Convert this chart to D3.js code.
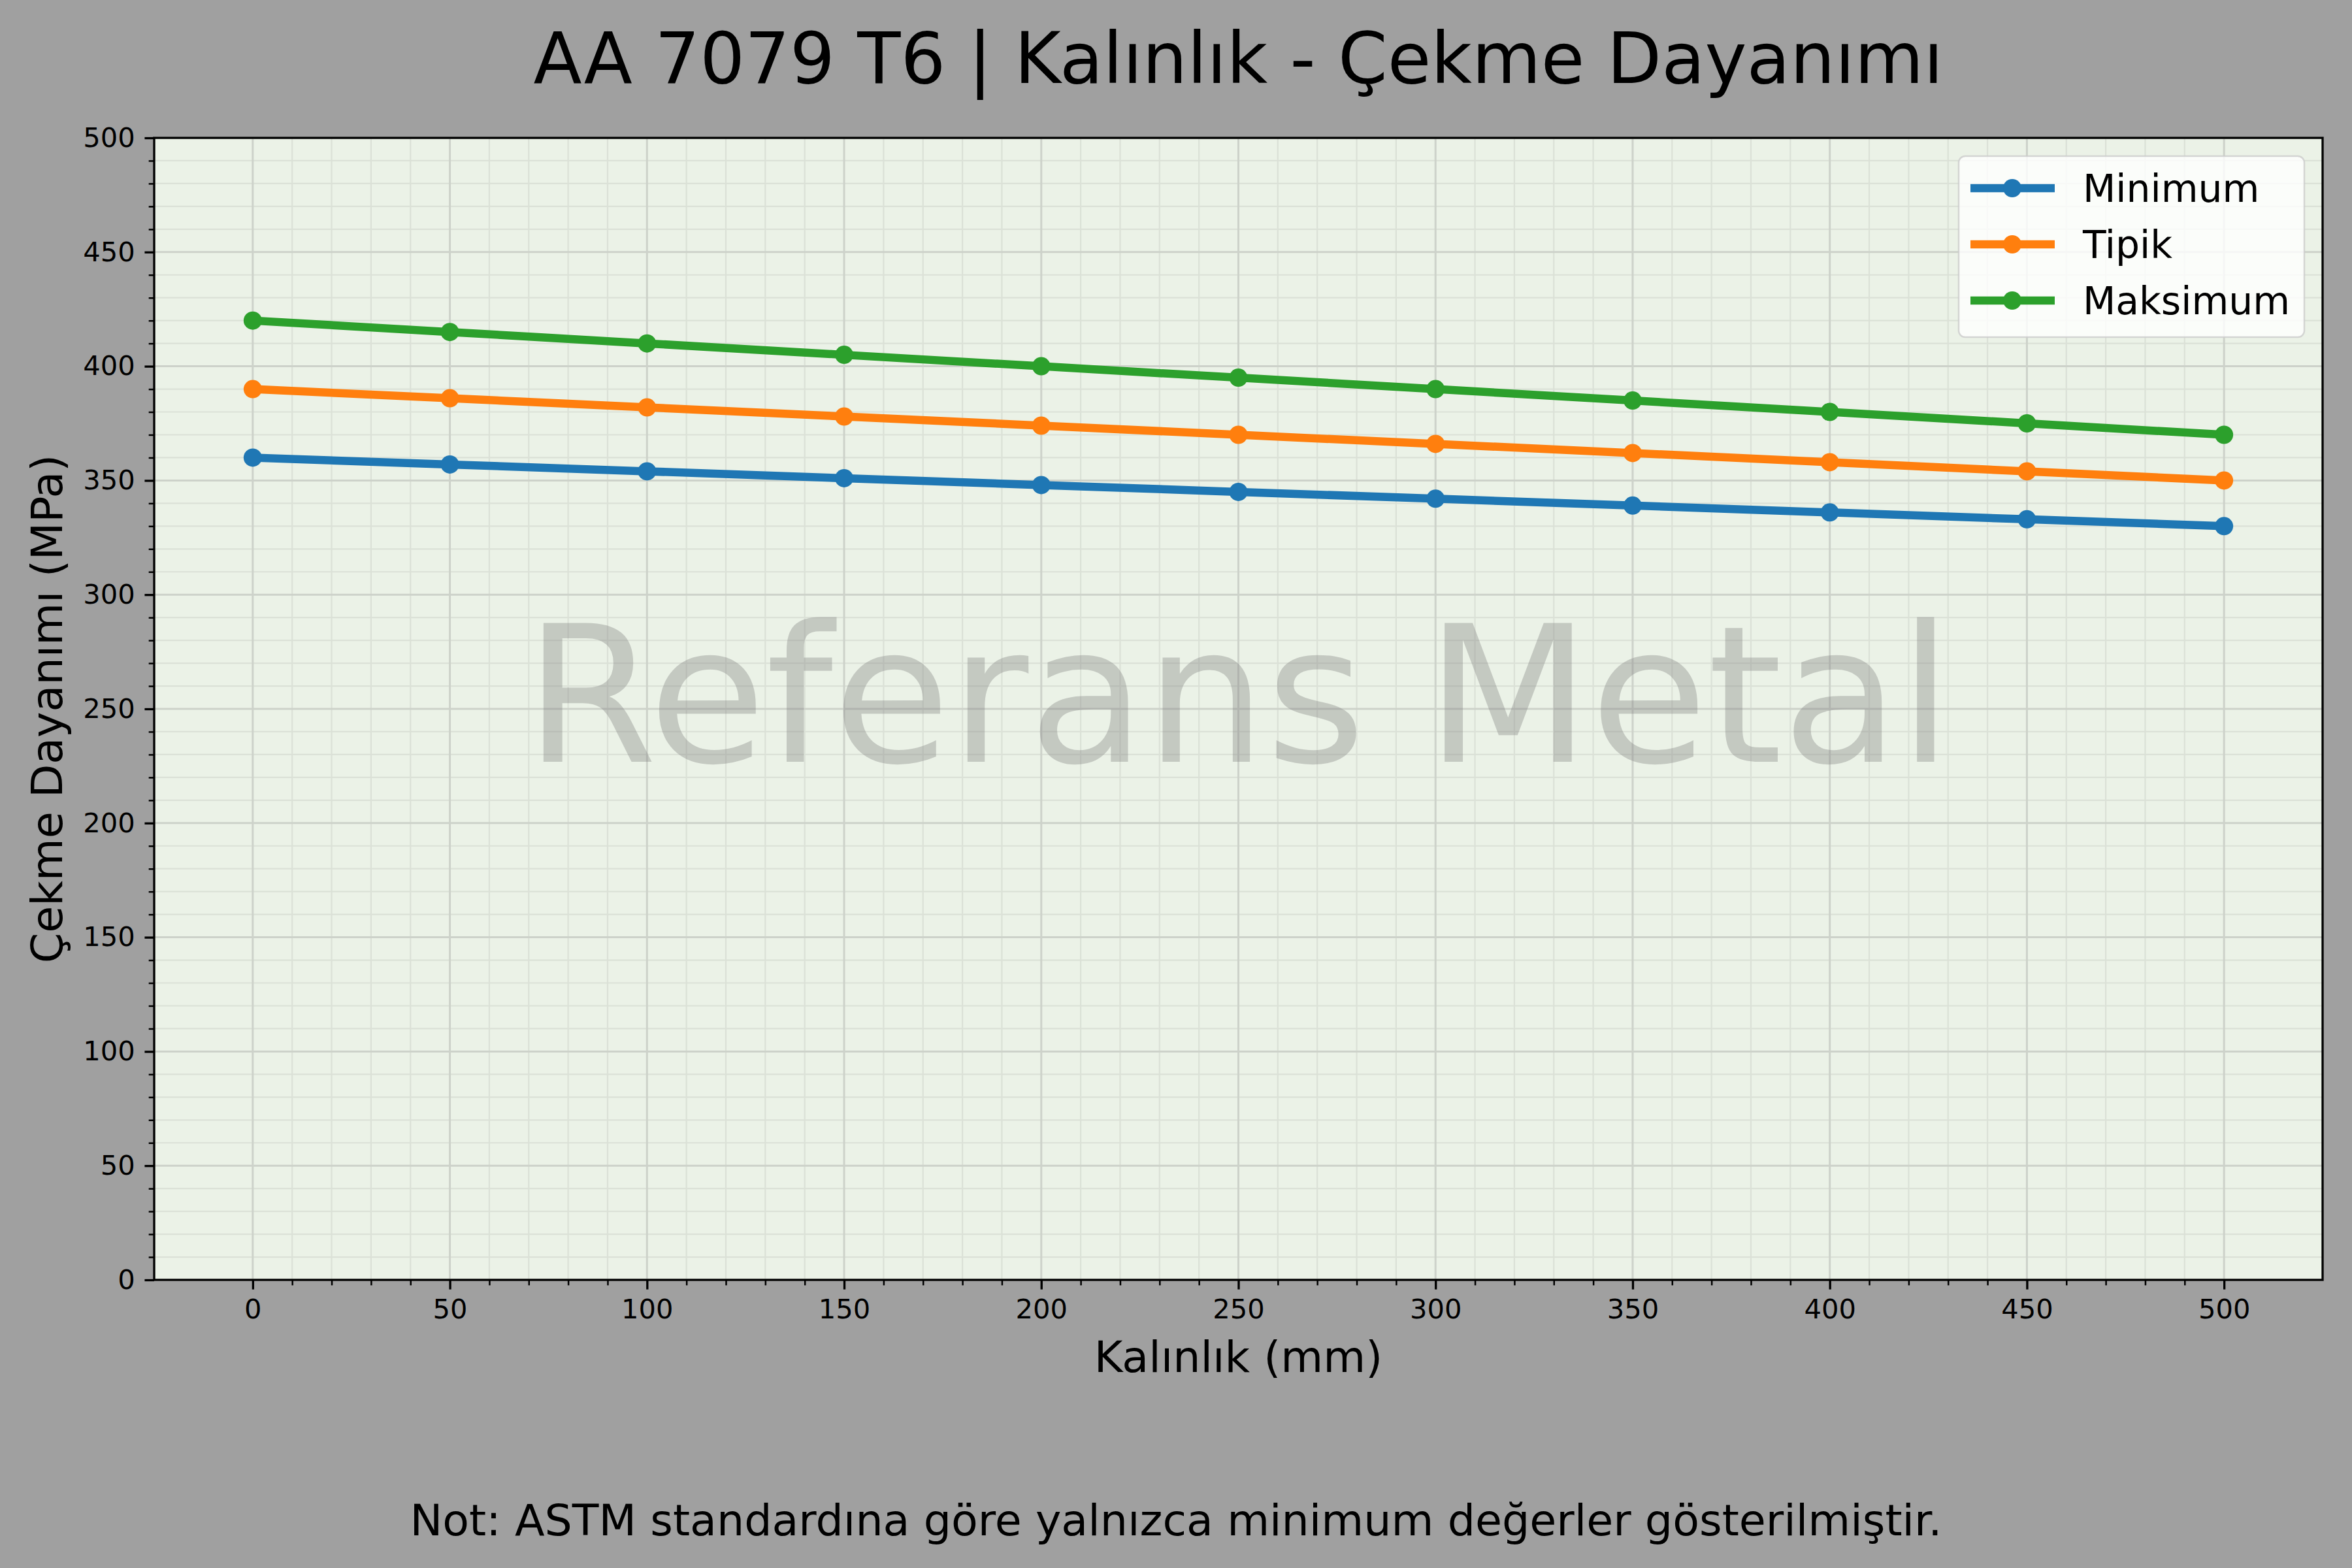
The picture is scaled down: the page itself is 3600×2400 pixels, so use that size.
<!DOCTYPE html>
<html>
<head>
<meta charset="utf-8">
<script src="https://cdn.jsdelivr.net/npm/d3@7"></script>
<style>
  html, body { margin: 0; padding: 0; background: #a0a0a0; }
  svg { display: block; font-family: "DejaVu Sans", sans-serif; }
</style>
</head>
<body>
<div id="chart"></div>
<script>
// values
const thickness = [0, 50, 100, 150, 200, 250, 300, 350, 400, 450, 500]
const minValues = [360, 357, 354, 351, 348, 345, 342, 339, 336, 333, 330]
const typValues = [390, 386, 382, 378, 374, 370, 366, 362, 358, 354, 350]
const maxValues = [420, 415, 410, 405, 400, 395, 390, 385, 380, 375, 370]
const seriesNames = ['Minimum', 'Tipik', 'Maksimum']
const seriesColors = ['#1f77b4', '#ff7f0e', '#2ca02c']
const xTicks = [0, 50, 100, 150, 200, 250, 300, 350, 400, 450, 500]
const yTicks = [0, 50, 100, 150, 200, 250, 300, 350, 400, 450, 500]

const titleText = 'AA 7079 T6 | Kalınlık - Çekme Dayanımı'
const xLabel = 'Kalınlık (mm)'
const yLabel = 'Çekme Dayanımı (MPa)'
const noteText = 'Not: ASTM standardına göre yalnızca minimum değerler gösterilmiştir.'
const watermark = 'Referans Metal'

const W = 3600, H = 2400
const plot = {left: 236, right: 3555, top: 211, bottom: 1959}
const pt = 300 / 72  // figure was made at 300 dpi

const svg = d3.select('#chart').append('svg')
  .attr('width', W).attr('height', H)
  .attr('viewBox', `0 0 ${W} ${H}`)

svg.append('rect').attr('width', W).attr('height', H).attr('fill', '#a0a0a0')

const x = d3.scaleLinear().domain([-25, 525]).range([plot.left, plot.right])
const y = d3.scaleLinear().domain([0, 500]).range([plot.bottom, plot.top])

const minorTicks = d3.range(0, 501, 10).filter(v => v % 50 !== 0)

// axes background
svg.append('rect')
  .attr('x', plot.left).attr('y', plot.top)
  .attr('width', plot.right - plot.left).attr('height', plot.bottom - plot.top)
  .attr('fill', '#ebf2e7')

// grid: minor first, then major
const grid = svg.append('g')
grid.selectAll('.gxm').data(minorTicks).enter().append('line')
  .attr('x1', d => x(d)).attr('x2', d => x(d))
  .attr('y1', plot.top).attr('y2', plot.bottom)
  .attr('stroke', '#dbe1d7').attr('stroke-width', 2.2)
grid.selectAll('.gym').data(minorTicks).enter().append('line')
  .attr('y1', d => y(d)).attr('y2', d => y(d))
  .attr('x1', plot.left).attr('x2', plot.right)
  .attr('stroke', '#dbe1d7').attr('stroke-width', 2.2)
grid.selectAll('.gx').data(xTicks).enter().append('line')
  .attr('x1', d => x(d)).attr('x2', d => x(d))
  .attr('y1', plot.top).attr('y2', plot.bottom)
  .attr('stroke', '#cdd2ca').attr('stroke-width', 3)
grid.selectAll('.gy').data(yTicks).enter().append('line')
  .attr('y1', d => y(d)).attr('y2', d => y(d))
  .attr('x1', plot.left).attr('x2', plot.right)
  .attr('stroke', '#cdd2ca').attr('stroke-width', 3)

// watermark
svg.append('text')
  .attr('x', (plot.left + plot.right) / 2)
  .attr('y', 1166)
  .attr('text-anchor', 'middle')
  .attr('font-size', 70 * pt)
  .attr('fill', '#808080').attr('fill-opacity', 0.36)
  .text(watermark)

// series
const series = [minValues, typValues, maxValues].map((vals, i) => ({
  name: seriesNames[i],
  color: seriesColors[i],
  points: thickness.map((t, j) => ({t: t, v: vals[j]}))
}))

const line = d3.line().x(d => x(d.t)).y(d => y(d.v))

const sg = svg.selectAll('.series').data(series).enter().append('g')
sg.append('path')
  .attr('d', d => line(d.points))
  .attr('fill', 'none')
  .attr('stroke', d => d.color)
  .attr('stroke-width', 3 * pt)
  .attr('stroke-linejoin', 'round')
  .attr('stroke-linecap', 'square')
sg.selectAll('circle').data(d => d.points.map(p => ({...p, color: d.color}))).enter()
  .append('circle')
  .attr('cx', d => x(d.t)).attr('cy', d => y(d.v))
  .attr('r', 14)
  .attr('fill', d => d.color)

// axes
const tickFont = 10 * pt
const xAxis = svg.append('g')
  .attr('transform', `translate(0,${plot.bottom})`)
  .call(d3.axisBottom(x).tickValues(xTicks).tickSize(3.5 * pt).tickPadding(3.5 * pt).tickSizeOuter(0))
const xMinor = svg.append('g')
  .attr('transform', `translate(0,${plot.bottom})`)
  .call(d3.axisBottom(x).tickValues(minorTicks).tickSize(2 * pt).tickFormat('').tickSizeOuter(0))
const yAxis = svg.append('g')
  .attr('transform', `translate(${plot.left},0)`)
  .call(d3.axisLeft(y).tickValues(yTicks).tickSize(3.5 * pt).tickPadding(3.5 * pt).tickSizeOuter(0))
const yMinor = svg.append('g')
  .attr('transform', `translate(${plot.left},0)`)
  .call(d3.axisLeft(y).tickValues(minorTicks).tickSize(2 * pt).tickFormat('').tickSizeOuter(0))

;[xAxis, yAxis, xMinor, yMinor].forEach(g => {
  g.select('.domain').remove()
  g.selectAll('text')
    .attr('font-family', '"DejaVu Sans", sans-serif')
    .attr('font-size', tickFont)
    .attr('fill', '#000')
})
xAxis.selectAll('line').attr('stroke', '#000').attr('stroke-width', 0.8 * pt)
yAxis.selectAll('line').attr('stroke', '#000').attr('stroke-width', 0.8 * pt)
xMinor.selectAll('line').attr('stroke', '#000').attr('stroke-width', 0.6 * pt)
yMinor.selectAll('line').attr('stroke', '#000').attr('stroke-width', 0.6 * pt)

// spines
svg.append('rect')
  .attr('x', plot.left).attr('y', plot.top)
  .attr('width', plot.right - plot.left).attr('height', plot.bottom - plot.top)
  .attr('fill', 'none').attr('stroke', '#000').attr('stroke-width', 0.8 * pt)

// legend
const lg = svg.append('g')
lg.append('rect')
  .attr('x', 2998).attr('y', 239)
  .attr('width', 3527 - 2998).attr('height', 516 - 239)
  .attr('rx', 10).attr('ry', 10)
  .attr('fill', '#ffffff').attr('fill-opacity', 0.8)
  .attr('stroke', '#cccccc').attr('stroke-opacity', 0.8).attr('stroke-width', 2.5)
const rowY = [288, 374, 460]
const items = lg.selectAll('.item').data(series).enter().append('g')
  .attr('transform', (d, i) => `translate(0,${rowY[i]})`)
items.append('line')
  .attr('x1', 3016).attr('x2', 3145).attr('y1', 0).attr('y2', 0)
  .attr('stroke', d => d.color).attr('stroke-width', 3 * pt)
items.append('circle')
  .attr('cx', 3080).attr('cy', 0).attr('r', 14)
  .attr('fill', d => d.color)
items.append('text')
  .attr('x', 3188).attr('y', 0).attr('dy', '0.36em')
  .attr('font-size', 14 * pt)
  .attr('fill', '#000')
  .text(d => d.name)

// titles
svg.append('text')
  .attr('x', (plot.left + plot.right) / 2).attr('y', 127)
  .attr('text-anchor', 'middle')
  .attr('font-size', 26 * pt)
  .attr('fill', '#000')
  .text(titleText)

svg.append('text')
  .attr('x', (plot.left + plot.right) / 2).attr('y', 2100)
  .attr('text-anchor', 'middle')
  .attr('font-size', 16 * pt)
  .attr('fill', '#000')
  .text(xLabel)

svg.append('text')
  .attr('transform', `translate(95,${(plot.top + plot.bottom) / 2}) rotate(-90)`)
  .attr('text-anchor', 'middle')
  .attr('font-size', 16 * pt)
  .attr('fill', '#000')
  .text(yLabel)

svg.append('text')
  .attr('x', W / 2).attr('y', 2350)
  .attr('text-anchor', 'middle')
  .attr('font-size', 16 * pt)
  .attr('fill', '#000')
  .text(noteText)
</script>
</body>
</html>
